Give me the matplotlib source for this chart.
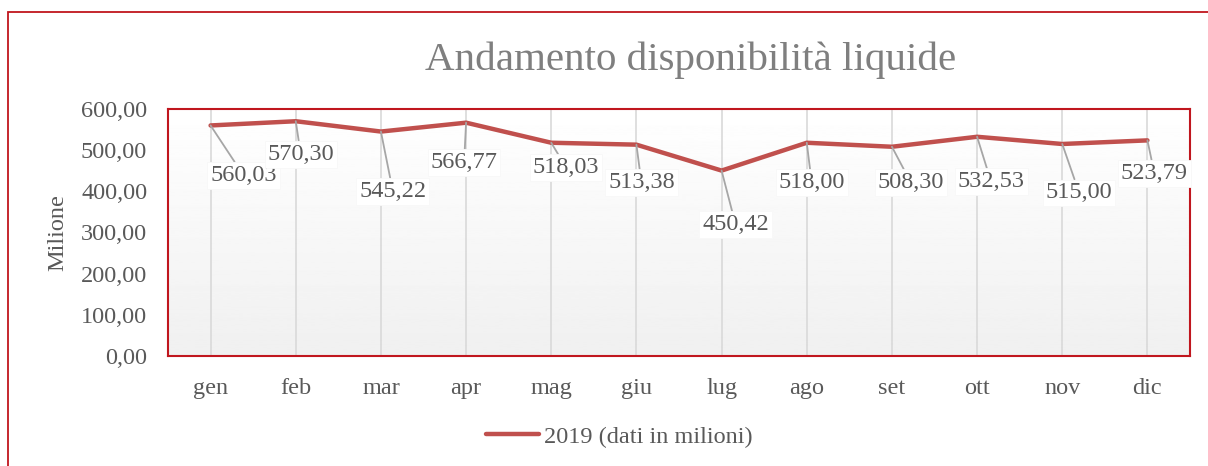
import numpy as np
import matplotlib.pyplot as plt
from matplotlib.patches import Rectangle
from matplotlib.ticker import FuncFormatter, MultipleLocator

# monthly liquidity, 2019 (millions)
mesi = ["gen", "feb", "mar", "apr", "mag", "giu", "lug", "ago", "set", "ott", "nov", "dic"]
valori = [560.03, 570.30, 545.22, 566.77, 518.03, 513.38, 450.42, 518.00, 508.30, 532.53, 515.00, 523.79]

# where each data label sits relative to its point (pixels)
label_offsets = [(33, -50), (5, -33), (12, -60), (-2, -40), (15, -25), (5, -38),
                 (14, -54), (5, -40), (19, -36), (14, -45), (17, -49), (7, -33)]

RED = "#C0504D"
FRAME = "#C0161E"
GREY = "#595959"

plt.rcParams["font.family"] = ["Liberation Serif", "DejaVu Serif"]


def it_num(v, pos=None):
    return f"{v:.2f}".replace(".", ",")


fig = plt.figure(figsize=(12.08, 4.66), dpi=100)

# outer chart frame (runs off the right/bottom edge)
fig.patches.append(Rectangle((8 / 1208, -0.1), 1.2, 1 - 12 / 466 + 0.1,
                             transform=fig.transFigure, fill=False,
                             ec=FRAME, lw=1.3))

ax = fig.add_axes([168 / 1208, 110 / 466, 1022 / 1208, 247 / 466])
x = np.arange(len(mesi))

# soft vertical gradient for the plot area
grad = np.linspace(0.94, 1.0, 256).reshape(-1, 1)
ax.imshow(grad, cmap="gray", vmin=0, vmax=1, aspect="auto",
          extent=[0, 1, 0, 1], transform=ax.transAxes, origin="lower", zorder=0)

ax.set_xlim(-0.5, len(mesi) - 0.5)
ax.set_ylim(0, 600)
for xi in x:
    ax.axvline(xi, color="#D9D9D9", lw=1.2, zorder=1)

ax.plot(x, valori, color=RED, lw=3.2, solid_capstyle="round",
        solid_joinstyle="round", zorder=3, label="2019 (dati in milioni)")

for xi, v, (dx, dy) in zip(x, valori, label_offsets):
    ax.annotate(it_num(v), xy=(xi, v), xytext=(dx, dy), textcoords="offset pixels",
                ha="center", va="center", fontsize=17.5, color=GREY, zorder=4,
                bbox=dict(boxstyle="square,pad=0.12", fc="white", ec="#F8F8F8", lw=0.6),
                arrowprops=dict(arrowstyle="-", color="#A6A6A6", lw=1.3,
                                shrinkA=0, shrinkB=0))

ax.set_xticks(x)
ax.set_xticklabels(mesi)
ax.yaxis.set_major_locator(MultipleLocator(100))
ax.yaxis.set_major_formatter(FuncFormatter(it_num))
ax.tick_params(axis="both", length=0, labelsize=17.5, labelcolor=GREY)
ax.tick_params(axis="y", pad=15)
ax.tick_params(axis="x", pad=16)

for s in ax.spines.values():
    s.set_color(FRAME)
    s.set_linewidth(1.5)

ax.set_ylabel("Milione", fontsize=17.5, color=GREY)
ax.yaxis.set_label_coords(-(168 - 68) / 1022, 0.5)

fig.text(691 / 1208, 1 - 60 / 466, "Andamento disponibilità liquide",
         ha="center", va="center", fontsize=29.5, color="#7F7F7F")

fig.legend(loc="center", bbox_to_anchor=(619 / 1208, 1 - 437 / 466),
           frameon=False, fontsize=17.5, labelcolor=GREY,
           handlelength=2.2, handletextpad=0.2)

fig.savefig("out.png", dpi=100, facecolor="white")
